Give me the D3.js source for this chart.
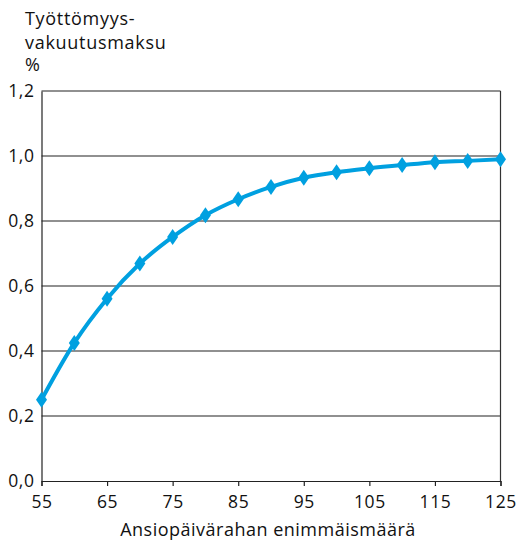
<!DOCTYPE html>
<html><head><meta charset="utf-8">
<script src="https://cdn.jsdelivr.net/npm/d3@7"></script>
<style>body{margin:0;background:#fff}svg{display:block}text{font-family:"Open Sans","Noto Sans",sans-serif;fill:#111}</style>
</head><body><svg id="c" width="522" height="540"></svg>
<script>
const xValues=[55,60,65,70,75,80,85,90,95,100,105,110,115,120,125];
const yValues=[0.25,0.425,0.561,0.669,0.751,0.818,0.867,0.905,0.933,0.950,0.962,0.972,0.981,0.985,0.990];
const xTicks=[55,65,75,85,95,105,115,125];
const yTicks=[0,0.2,0.4,0.6,0.8,1.0,1.2];
const yTitle=["Työttömyys-","vakuutusmaksu","%"];
const xTitle="Ansiopäivärahan enimmäismäärä";

const svg=d3.select("#c");
const L=41.5,R=500.5,T=91,B=481;
const x=d3.scaleLinear().domain([55,125]).range([L,R]);
const y=d3.scaleLinear().domain([0,1.2]).range([B,T]);
const fmt=d=>d3.format(".1f")(d).replace(".",",");

// gridlines
svg.append("g").selectAll("line").data(yTicks.filter(d=>d>0)).join("line")
 .attr("x1",L).attr("x2",R).attr("y1",d=>y(d)).attr("y2",d=>y(d))
 .attr("stroke","#222").attr("stroke-width",1.2);
// right border
svg.append("line").attr("x1",R).attr("x2",R).attr("y1",T).attr("y2",B).attr("stroke","#333").attr("stroke-width",1.2);

// x axis
const xa=svg.append("g").attr("transform",`translate(0,${B})`)
 .call(d3.axisBottom(x).tickValues(xTicks).tickSize(5).tickPadding(10).tickFormat(d3.format("d")));
xa.select(".domain").attr("stroke","#222").attr("stroke-width",1.2);
xa.selectAll(".tick line").attr("stroke","#222").attr("stroke-width",1.2);
xa.selectAll("text").style("font-size","17.5px").style("letter-spacing","0.6px").attr("fill","#111");

// y axis
const ya=svg.append("g").attr("transform",`translate(${L},0)`)
 .call(d3.axisLeft(y).tickValues(yTicks).tickSize(0).tickPadding(7).tickFormat(fmt));
ya.select(".domain").attr("stroke","#222").attr("stroke-width",1.2);
ya.selectAll("text").style("font-size","17.5px").style("letter-spacing","0.6px").attr("fill","#111");

// titles
svg.append("g").selectAll("text").data(yTitle).join("text")
 .attr("x",25).attr("y",(d,i)=>[25,49,71][i]).style("font-size","18px").style("letter-spacing","0.7px").text(d=>d);
svg.append("text").attr("x",268).attr("y",536).attr("text-anchor","middle").style("font-size","18px").style("letter-spacing","0.5px").text(xTitle);

// line
const data=xValues.map((v,i)=>[v,yValues[i]]);
svg.append("path").datum(data)
 .attr("d",d3.line().x(d=>x(d[0])).y(d=>y(d[1])).curve(d3.curveMonotoneX))
 .attr("fill","none").attr("stroke","#00A0E0").attr("stroke-width",4);
svg.append("g").selectAll("path").data(data).join("path")
 .attr("transform",d=>`translate(${x(d[0])},${y(d[1])})`)
 .attr("d","M0,-8L5.5,0L0,8L-5.5,0Z").attr("fill","#00A0E0");
</script></body></html>
